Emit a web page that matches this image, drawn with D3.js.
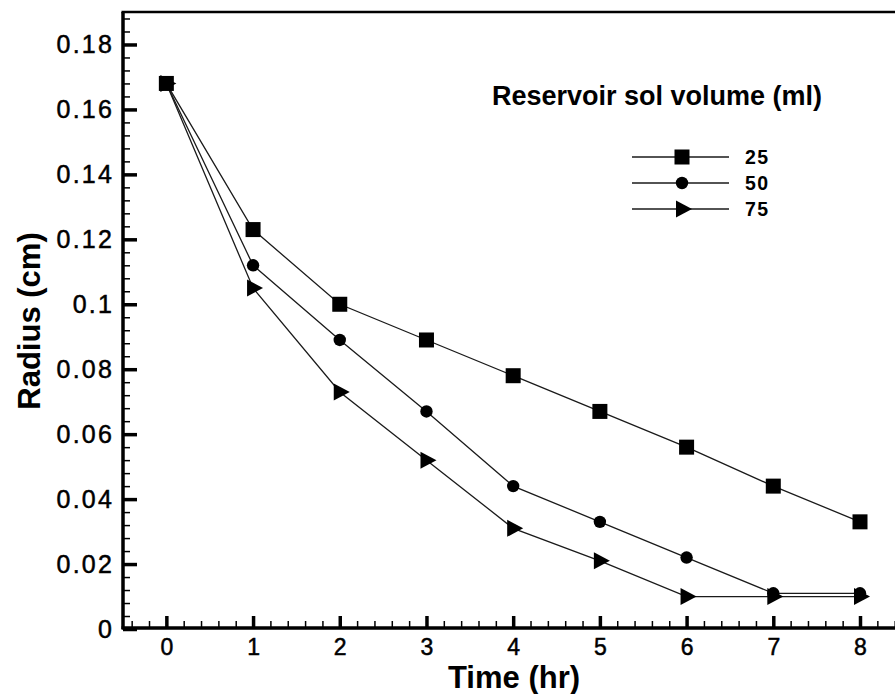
<!DOCTYPE html>
<html>
<head>
<meta charset="utf-8">
<script src="https://cdn.jsdelivr.net/npm/d3@7"></script>
<style>
  html, body { margin: 0; padding: 0; background: #fff; overflow: hidden; }
  svg { display: block; }
</style>
</head>
<body>
<svg id="chart" width="895" height="694"></svg>
<script>
// Time points (hr)
const times = [0, 1, 2, 3, 4, 5, 6, 7, 8];

// Droplet radius (cm) for each reservoir sol volume
const radius25 = [0.168, 0.123, 0.100, 0.089, 0.078, 0.067, 0.056, 0.044, 0.033];
const radius50 = [0.168, 0.112, 0.089, 0.067, 0.044, 0.033, 0.022, 0.011, 0.011];
const radius75 = [0.168, 0.105, 0.073, 0.052, 0.031, 0.021, 0.010, 0.010, 0.010];

const seriesNames = ["25", "50", "75"];

// Axis ticks
const xMajor = [0, 1, 2, 3, 4, 5, 6, 7, 8];
const yMajor = [0, 0.02, 0.04, 0.06, 0.08, 0.1, 0.12, 0.14, 0.16, 0.18];
const yLabels = ["0", "0.02", "0.04", "0.06", "0.08", "0.1", "0.12", "0.14", "0.16", "0.18"];

const svg = d3.select("#chart");
const font = "'Liberation Sans', Arial, Helvetica, sans-serif";

const plotLeft = 123, plotTop = 12, plotBottom = 629;
const x = d3.scaleLinear().domain([-0.5, 8]).range([plotLeft, 860]);
const y = d3.scaleLinear().domain([0, 0.19]).range([plotBottom, plotTop]);

const xMinor = d3.range(-0.4, 8.6, 0.2).map(v => +v.toFixed(1)).filter(v => Math.abs(v - Math.round(v)) > 1e-6);
const yMinor = d3.range(0.004, 0.19, 0.004).map(v => +v.toFixed(3)).filter(v => Math.abs(v / 0.02 - Math.round(v / 0.02)) > 1e-6);

// Minor ticks
svg.append("g")
  .attr("transform", `translate(${plotLeft},0)`)
  .call(d3.axisLeft(y).tickValues(yMinor).tickSize(-7).tickFormat(""))
  .call(g => g.select(".domain").remove())
  .call(g => g.selectAll("line").attr("stroke", "#000").attr("stroke-width", 1.5));

svg.append("g")
  .attr("transform", `translate(0,${plotBottom - 1})`)
  .call(d3.axisBottom(x).tickValues(xMinor).tickSize(-7).tickFormat(""))
  .call(g => g.select(".domain").remove())
  .call(g => g.selectAll("line").attr("stroke", "#000").attr("stroke-width", 1.5));

// Major ticks with labels
svg.append("g")
  .attr("transform", `translate(${plotLeft},0)`)
  .call(d3.axisLeft(y).tickValues(yMajor).tickSize(-14).tickPadding(9)
        .tickFormat((d, i) => yLabels[i]))
  .call(g => g.select(".domain").remove())
  .call(g => g.selectAll("line").attr("stroke", "#000").attr("stroke-width", 3.5))
  .call(g => g.selectAll("text")
        .attr("fill", "#000")
        .attr("stroke", "#000").attr("stroke-width", 0.5)
        .style("font-family", font)
        .style("font-size", "25px")
        .style("letter-spacing", "2.2px"));

svg.append("g")
  .attr("transform", `translate(0,${plotBottom - 1})`)
  .call(d3.axisBottom(x).tickValues(xMajor).tickSize(-12).tickPadding(11)
        .tickFormat(d3.format("d")))
  .call(g => g.select(".domain").remove())
  .call(g => g.selectAll("line").attr("stroke", "#000").attr("stroke-width", 3.5))
  .call(g => g.selectAll("text")
        .attr("fill", "#000")
        .attr("stroke", "#000").attr("stroke-width", 0.5)
        .style("font-family", font)
        .style("font-size", "23px"));

// Frame: thick left and bottom axes, thinner top edge
svg.append("line").attr("x1", plotLeft).attr("x2", plotLeft).attr("y1", plotTop).attr("y2", plotBottom)
  .attr("stroke", "#000").attr("stroke-width", 3.5);
svg.append("line").attr("x1", plotLeft - 1.5).attr("x2", 905).attr("y1", plotBottom - 1).attr("y2", plotBottom - 1)
  .attr("stroke", "#000").attr("stroke-width", 3.5);
svg.append("line").attr("x1", plotLeft - 1.5).attr("x2", 905).attr("y1", plotTop).attr("y2", plotTop)
  .attr("stroke", "#000").attr("stroke-width", 2.5);

// Marker shapes
const markers = {
  square: g => g.append("rect").attr("x", -7.5).attr("y", -7.5).attr("width", 15).attr("height", 15),
  circle: g => g.append("circle").attr("r", 6.2),
  triangle: g => g.append("path").attr("d", "M-6,-8.5L-6,8.5L10,0Z")
};

const series = [
  { name: seriesNames[1], values: radius50, marker: "circle" },
  { name: seriesNames[2], values: radius75, marker: "triangle" },
  { name: seriesNames[0], values: radius25, marker: "square" }
];

const line = d3.line().x((d, i) => x(times[i])).y(d => y(d));

// Connecting lines first, markers on top
series.forEach(s => {
  svg.append("path")
    .datum(s.values)
    .attr("fill", "none")
    .attr("stroke", "#1a1a1a")
    .attr("stroke-width", 1.3)
    .attr("d", line);
});

series.forEach(s => {
  const g = svg.append("g").attr("fill", "#000");
  s.values.forEach((v, i) => {
    const m = g.append("g").attr("transform", `translate(${x(times[i])},${y(v)})`);
    markers[s.marker](m);
  });
});

// Axis titles
svg.append("text")
  .attr("x", 514).attr("y", 688)
  .attr("text-anchor", "middle")
  .style("font-family", font).style("font-weight", "bold").style("font-size", "31px")
  .text("Time (hr)");

svg.append("text")
  .attr("transform", "translate(40,321) rotate(-90)")
  .attr("text-anchor", "middle")
  .style("font-family", font).style("font-weight", "bold").style("font-size", "31px")
  .text("Radius (cm)");

// Legend
svg.append("text")
  .attr("x", 492).attr("y", 105)
  .style("font-family", font).style("font-weight", "bold").style("font-size", "27px")
  .text("Reservoir sol volume (ml)");

const legendRows = [
  { name: seriesNames[0], marker: "square", cy: 157 },
  { name: seriesNames[1], marker: "circle", cy: 183 },
  { name: seriesNames[2], marker: "triangle", cy: 209 }
];

legendRows.forEach(r => {
  svg.append("line").attr("x1", 632).attr("x2", 729).attr("y1", r.cy).attr("y2", r.cy)
    .attr("stroke", "#1a1a1a").attr("stroke-width", 1.3);
  const m = svg.append("g").attr("fill", "#000").attr("transform", `translate(682,${r.cy})`);
  markers[r.marker](m);
  svg.append("text")
    .attr("x", 745).attr("y", r.cy + 7)
    .style("font-family", font).style("font-weight", "bold").style("font-size", "19.5px")
    .style("letter-spacing", "1.5px")
    .text(r.name);
});
</script>
</body>
</html>
